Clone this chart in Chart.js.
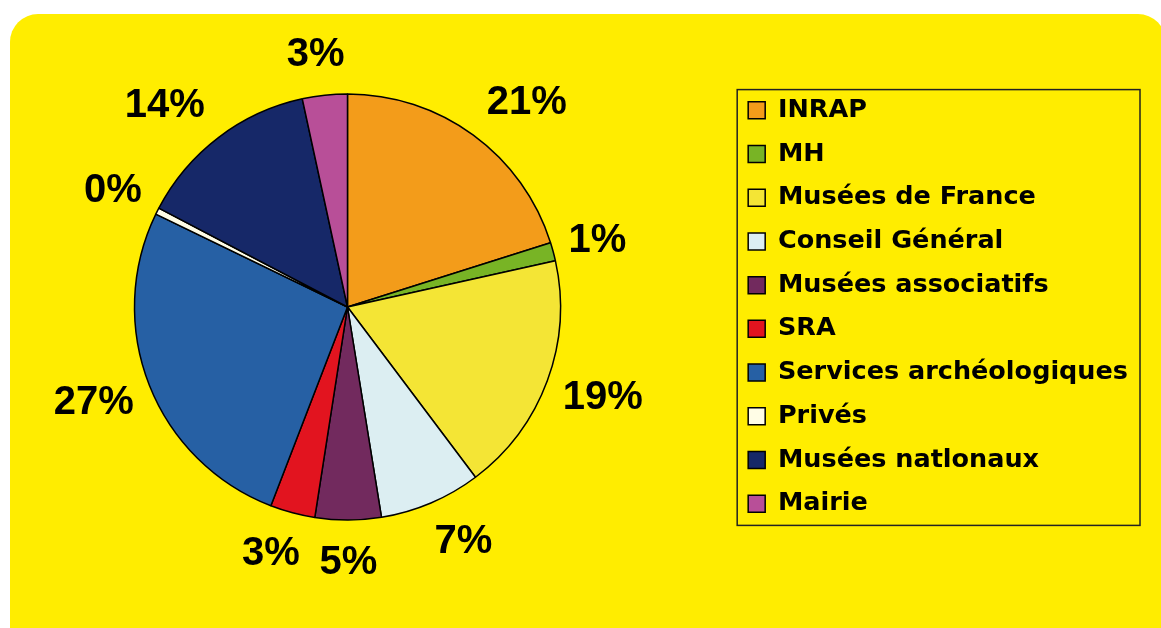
<!DOCTYPE html>
<html lang="fr">
<head>
<meta charset="utf-8">
<title>Répartition par organisme</title>
<script src="https://cdn.jsdelivr.net/npm/chart.js@4.4.1/dist/chart.umd.min.js"></script>
<style>
  html, body { margin: 0; padding: 0; background: #fff; overflow: hidden; }
  #fond { position: absolute; left: 10px; top: 14px; width: 1156px; height: 700px; background: #ffed00; border-radius: 28px; }
  #zone { position: absolute; left: -35px; top: 0; width: 1196px; height: 628px; }
</style>
</head>
<body>
<div id="fond"></div>
<div id="zone"><canvas id="camembert"></canvas></div>
<script>
const organismes = ['INRAP', 'MH', 'Musées de France', 'Conseil Général', 'Musées associatifs', 'SRA',
  'Services archéologiques', 'Privés', 'Musées natlonaux', 'Mairie'];
const parts = [20.1, 1.4, 18.2, 7.7, 5.0, 3.4, 26.3, 0.5, 13.9, 3.4];
// étiquettes affichées autour du camembert
const pourcentages = [21, 1, 19, 7, 5, 3, 27, 0, 14, 3];
const couleurs = ['#f39c1a', '#78b425', '#f4e535', '#dceef2', '#722a5e', '#e2141f',
  '#2660a4', '#fffde6', '#162868', '#b84f98'];

const borne = t => Math.max(-1, Math.min(1, t));

// étiquettes % à l'extérieur des parts (coin le plus proche posé sur le rayon médian)
const etiquettesPlugin = {
  id: 'etiquettes',
  afterDatasetsDraw(chart) {
    const ctx = chart.ctx;
    const arcs = chart.getDatasetMeta(0).data;
    ctx.save();
    ctx.font = 'bold 40px "Liberation Sans", Arial, sans-serif';
    ctx.fillStyle = '#000';
    ctx.textAlign = 'center';
    ctx.textBaseline = 'middle';
    arcs.forEach((arc, i) => {
      const p = arc.getProps(['x', 'y', 'startAngle', 'endAngle', 'outerRadius']);
      const milieu = (p.startAngle + p.endAngle) / 2;
      const texte = pourcentages[i] + '%';
      const w = ctx.measureText(texte).width;
      const h = 30;
      const ux = Math.cos(milieu), uy = Math.sin(milieu);
      const d = p.outerRadius + 27 - 12 * ux * ux;
      const cx = p.x + ux * d + borne(2 * ux) * w / 2;
      const cy = p.y + uy * d + borne(2 * uy) * h / 2;
      ctx.fillText(texte, cx, cy + 1);
    });
    ctx.restore();
  }
};

// cadre autour de la légende
const cadrePlugin = {
  id: 'cadre',
  afterDraw(chart) {
    const boxes = chart.legend.legendHitBoxes;
    if (!boxes || !boxes.length) return;
    let l = Infinity, t = Infinity, r = -Infinity, b = -Infinity;
    boxes.forEach(hb => {
      l = Math.min(l, hb.left);
      t = Math.min(t, hb.top);
      r = Math.max(r, hb.left + hb.width);
      b = Math.max(b, hb.top + hb.height);
    });
    const ctx = chart.ctx;
    ctx.save();
    ctx.strokeStyle = '#222';
    ctx.lineWidth = 1.5;
    ctx.strokeRect(l - 11, t - 8, r - l + 23, b - t + 17);
    ctx.restore();
  }
};

const ctx = document.getElementById('camembert').getContext('2d');
const chart = new Chart(ctx, {
  type: 'pie',
  data: {
    labels: organismes,
    datasets: [{
      data: parts,
      backgroundColor: couleurs,
      borderColor: '#000',
      borderWidth: 1.5,
      hoverOffset: 0
    }]
  },
  options: {
    responsive: true,
    maintainAspectRatio: false,
    animation: false,
    radius: 213,
    layout: {
      padding: { left: 0, right: 23, top: 0, bottom: 14 }
    },
    plugins: {
      tooltip: { enabled: false },
      legend: {
        display: true,
        position: 'right',
        labels: {
          boxWidth: 17,
          boxHeight: 17,
          padding: 18.2,
          color: '#000',
          font: { family: '"DejaVu Sans", sans-serif', size: 25.5, weight: 'bold' }
        }
      }
    }
  },
  plugins: [etiquettesPlugin, cadrePlugin]
});
</script>
</body>
</html>
